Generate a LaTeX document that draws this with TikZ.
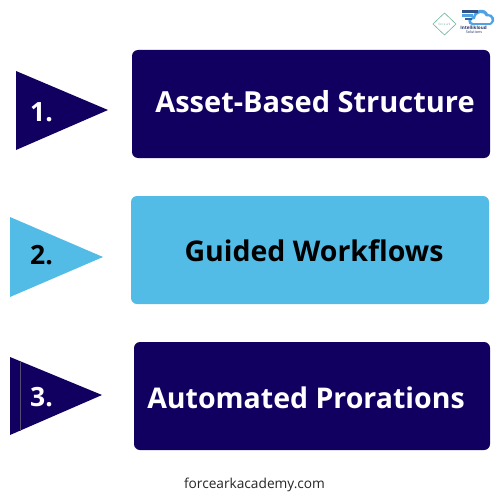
\documentclass[tikz,border=0pt]{standalone}
\usepackage{fontspec}
\setmainfont{Open Sans}
\definecolor{navy}{HTML}{120060}
\definecolor{sky}{HTML}{52BBE6}
\definecolor{teal1}{HTML}{6DB5A0}
\definecolor{cloudb}{HTML}{4FA3E3}
\definecolor{logod}{HTML}{27356B}
\tikzset{
  box/.style={rounded corners=6pt},
  num/.style={font=\fontsize{26.5}{27}\selectfont\bfseries,text=#1},
  ttl/.style={font=\fontsize{28.5}{30}\selectfont\bfseries,text=#1},
}
\begin{document}
\begin{tikzpicture}[x=1pt,y=-1pt]
\useasboundingbox (0,0) rectangle (500,500);
\fill[white] (0,0) rectangle (500,500);
% row 1
\fill[navy] (16,71) -- (108,110) -- (16,150) -- cycle;
\fill[navy,box] (132,50) rectangle (490,158);
\node[num=white] (n1) at (41.5,112) {1.};
\node[font=\fontsize{29}{30}\selectfont\bfseries,text=white] (t1) at (315,102) {Asset-Based Structure};
% row 2
\fill[sky] (10,217) -- (103,257) -- (10,297) -- cycle;
\fill[sky,box] (131,196) rectangle (489,304);
\node[num=black] (n2) at (41.5,255) {2.};
\node[ttl=black] (t2) at (314,251) {Guided Workflows};
% row 3
\fill[navy] (10,357) -- (102,395) -- (10,435) -- cycle;
\draw[gray!60!navy,line width=0.5pt] (20.5,362) -- (20.5,431);
\fill[navy,box] (134,342) rectangle (490,450);
\node[num=white] (n3) at (41.5,397) {3.};
\node[ttl=white] (t3) at (306,398) {Automated Prorations};
% footer
\node[font=\fontsize{13.7}{15}\selectfont,text=black!85] (f) at (254.5,484.5) {forcearkacademy.com};
% logos
\draw[teal1,line width=0.6pt] (444.5,13) -- (456,24) -- (444.5,35) -- (433,24) -- cycle;
\node[font=\fontsize{2.8}{3}\selectfont,text=teal1] (l1) at (444.5,24) {force ark};
\fill[cloudb] (472,25) .. controls (467,25) and (467,17) .. (473,17) .. controls (474,9) and (485,7) .. (488,14) .. controls (493,13) and (497,21) .. (492,24) .. controls (491,25) and (490,25) .. (488,25) -- cycle;
\fill[white] (474,23) .. controls (470,23) and (470,19) .. (475,19) .. controls (476,12) and (484,11) .. (486,16.5) .. controls (490,15) and (494,20) .. (490,23) -- cycle;
\fill[logod!75!cloudb] (462,10) rectangle (478,13);
\fill[cloudb] (462,14.5) rectangle (473,17);
\fill[logod!60!cloudb] (465,18) rectangle (472,20);
\node[font=\fontsize{4.6}{5}\selectfont\bfseries,text=logod] (l2) at (473.5,27.5) {Intellikloud};
\node[font=\fontsize{3.8}{4}\selectfont,text=logod] (l3) at (474,32) {Solutions};
\end{tikzpicture}
\end{document}
